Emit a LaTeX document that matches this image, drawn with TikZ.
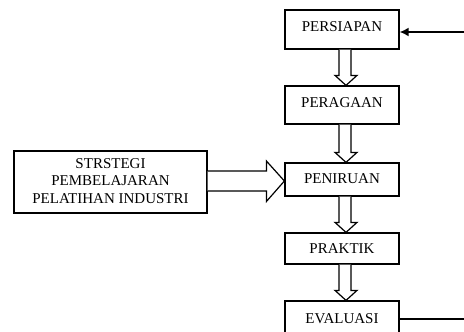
\documentclass[tikz,border=0pt]{standalone}
\usepackage{fontspec}
\setmainfont{Liberation Serif}
\usetikzlibrary{arrows.meta,calc}
\newcommand\hollowdown[2]{%
  \draw[hollow] ($(#1.south)+(-3,0)$) -- ($(#2.north)+(-3,-10)$) -- ($(#2.north)+(-7,-10)$)
    -- ($(#2.north)+(4,0)$) -- ($(#2.north)+(15,-10)$) -- ($(#2.north)+(9,-10)$) -- ($(#1.south)+(9,0)$);}
\begin{document}
\begin{tikzpicture}[x=1pt,y=-1pt,
  box/.style={draw, line width=1.2pt, minimum width=114pt, inner sep=0pt,
    font=\fontsize{15}{17.5}\selectfont},
  hollow/.style={draw, line width=1.2pt, fill=white, line join=miter}]
\useasboundingbox (0,0) rectangle (464,332);
\clip (0,0) rectangle (464,332);
\node[box, minimum height=39pt] (persiapan) at (342,29.5) {\raisebox{6pt}{PERSIAPAN}};
\node[box, minimum height=38pt] (peragaan) at (342,105) {\raisebox{4pt}{PERAGAAN}};
\node[box, minimum height=33pt] (peniruan) at (342,179.5) {\raisebox{2.5pt}{PENIRUAN}};
\node[box, minimum height=31pt] (praktik) at (342,248.5) {PRAKTIK};
\node[box, minimum height=44pt] (evaluasi) at (342,323) {\raisebox{8pt}{EVALUASI}};
\node[box, minimum width=193pt, minimum height=62pt, align=center] (strategi) at (110.5,182)
  {\raisebox{1.5pt}{\begin{tabular}{@{}c@{}}STRSTEGI\\PEMBELAJARAN\\PELATIHAN INDUSTRI\end{tabular}}};
\hollowdown{persiapan}{peragaan}
\hollowdown{peragaan}{peniruan}
\hollowdown{peniruan}{praktik}
\hollowdown{praktik}{evaluasi}
\draw[hollow] ($(strategi.east)+(0,-11)$) -- ($(peniruan.west)+(-18,-8.5)$) -- ($(peniruan.west)+(-18,-18.5)$)
  -- ($(peniruan.west)+(0,1.5)$) -- ($(peniruan.west)+(-18,22)$) -- ($(peniruan.west)+(-18,11.5)$)
  -- ($(strategi.east)+(0,9)$);
\coordinate (in) at (464,32);
\draw[line width=2pt, -{Latex[length=9pt,width=9pt]}] (in) -- (persiapan.east |- in);
\coordinate (out) at (464,319);
\draw[line width=1.2pt] (evaluasi.east |- out) -- (out);
\end{tikzpicture}
\end{document}
